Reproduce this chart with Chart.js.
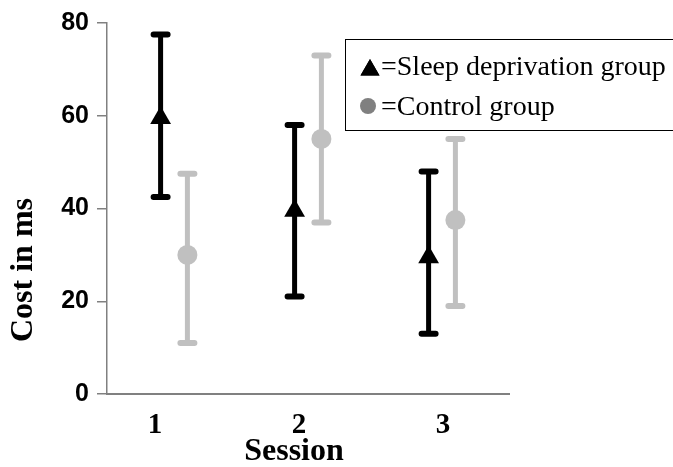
<!DOCTYPE html>
<html>
<head>
<meta charset="utf-8">
<script src="https://cdn.jsdelivr.net/npm/chart.js@4.4.0/dist/chart.umd.min.js"></script>
<style>
html,body{margin:0;padding:0;background:#fff}
#wrap{width:673px;height:467px;position:relative}
</style>
</head>
<body>
<div id="wrap"><canvas id="chart"></canvas></div>
<script>
// values
const sessions = [1, 2, 3];
const sleepMean = [59.5, 39.5, 29.5];
const sleepLow = [42.5, 21, 13];
const sleepHigh = [77.5, 58, 48];
const controlMean = [30, 55, 37.5];
const controlLow = [11, 37, 19];
const controlHigh = [47.5, 73, 55];
const yTicks = [0, 20, 40, 60, 80];
const legendLabels = ['=Sleep deprivation group', '=Control group'];

const DODGE = 0.1;
const BLACK = '#000000';
const GREY = '#c0c0c0';
const AXIS = '#808080';

function points(means, shift) {
  return sessions.map((s, i) => ({ x: s + shift, y: means[i] }));
}

// error bars drawn from the y scale
const errorBars = {
  id: 'errorBars',
  beforeDatasetsDraw(chart) {
    const ctx = chart.ctx;
    const y = chart.scales.y;
    chart.data.datasets.forEach((ds, di) => {
      const meta = chart.getDatasetMeta(di);
      meta.data.forEach((pt, i) => {
        const top = y.getPixelForValue(ds.errHigh[i]);
        const bot = y.getPixelForValue(ds.errLow[i]);
        ctx.save();
        ctx.strokeStyle = ds.borderColor;
        ctx.lineWidth = 5;
        ctx.lineCap = 'butt';
        ctx.beginPath();
        ctx.moveTo(pt.x, top);
        ctx.lineTo(pt.x, bot);
        ctx.stroke();
        ctx.lineWidth = 6;
        ctx.lineCap = 'round';
        ctx.beginPath();
        ctx.moveTo(pt.x - 7, top);
        ctx.lineTo(pt.x + 7, top);
        ctx.moveTo(pt.x - 7, bot);
        ctx.lineTo(pt.x + 7, bot);
        ctx.stroke();
        ctx.restore();
      });
    });
  }
};

// titles and the boxed legend
const decorations = {
  id: 'decorations',
  afterDraw(chart) {
    const ctx = chart.ctx;
    ctx.save();
    ctx.fillStyle = '#000';
    ctx.font = 'bold 32px "Liberation Serif"';
    ctx.textAlign = 'center';
    ctx.textBaseline = 'middle';
    ctx.fillText('Session', 294, 452);
    ctx.translate(24, 270);
    ctx.rotate(-Math.PI / 2);
    ctx.fillText('Cost in ms', 0, 0);
    ctx.restore();

    ctx.save();
    ctx.strokeStyle = '#000';
    ctx.lineWidth = 1;
    ctx.strokeRect(345.5, 39.5, 340, 91);
    Chart.helpers.drawPoint(ctx, { pointStyle: 'triangle', radius: 11, borderWidth: 0 }, 370, 70);
    ctx.fillStyle = '#000';
    ctx.fill();
    ctx.beginPath();
    ctx.arc(368, 106, 8, 0, Math.PI * 2);
    ctx.fillStyle = '#808080';
    ctx.fill();
    ctx.fillStyle = '#000';
    ctx.font = '28px "Liberation Serif"';
    ctx.textAlign = 'left';
    ctx.textBaseline = 'alphabetic';
    ctx.fillText(legendLabels[0], 381, 75);
    ctx.fillText(legendLabels[1], 381, 115);
    ctx.restore();
  }
};

new Chart(document.getElementById('chart'), {
  type: 'scatter',
  data: {
    datasets: [
      {
        label: 'Sleep deprivation group',
        data: points(sleepMean, -DODGE),
        errLow: sleepLow,
        errHigh: sleepHigh,
        pointStyle: 'triangle',
        pointRadius: 12,
        backgroundColor: BLACK,
        borderColor: BLACK,
        borderWidth: 0
      },
      {
        label: 'Control group',
        data: points(controlMean, DODGE),
        errLow: controlLow,
        errHigh: controlHigh,
        pointStyle: 'circle',
        pointRadius: 10,
        backgroundColor: GREY,
        borderColor: GREY,
        borderWidth: 0
      }
    ]
  },
  options: {
    responsive: true,
    maintainAspectRatio: false,
    animation: false,
    layout: { padding: { left: 0, top: 20, right: 164, bottom: 0 } },
    plugins: {
      legend: { display: false },
      tooltip: { enabled: false }
    },
    scales: {
      x: { type: 'linear', min: 0.5, max: 3.5, display: false },
      x2: {
        type: 'linear',
        position: 'bottom',
        min: 0.667,
        max: 3.458,
        afterBuildTicks(scale) { scale.ticks = sessions.map(v => ({ value: v })); },
        afterFit(scale) { scale.height = 73; },
        grid: { drawOnChartArea: false, drawTicks: false },
        border: { display: true, color: AXIS, width: 2 },
        ticks: {
          color: '#000',
          padding: 14,
          font: { family: '"Liberation Serif"', size: 29, weight: 'bold' }
        }
      },
      y: {
        min: 0,
        max: 80,
        afterBuildTicks(scale) { scale.ticks = yTicks.map(v => ({ value: v })); },
        afterFit(scale) { scale.width = 107; },
        grid: { drawOnChartArea: false, color: AXIS, lineWidth: 1.5, tickLength: 10 },
        border: { display: true, color: AXIS, width: 1.5 },
        ticks: {
          color: '#000',
          padding: 8,
          font: { family: '"Liberation Sans"', size: 25, weight: 'bold' }
        }
      }
    }
  },
  plugins: [errorBars, decorations]
});
</script>
</body>
</html>
